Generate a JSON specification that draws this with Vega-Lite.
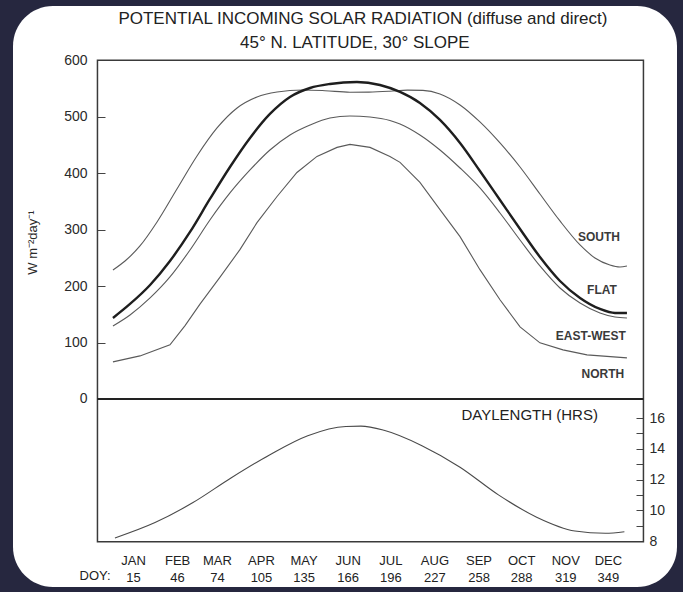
{
  "$schema": "https://vega.github.io/schema/vega-lite/v6.json",
  "width": 683,
  "height": 592,
  "autosize": {"type": "fit", "contains": "padding"},
  "padding": {"left": 13, "top": 6, "right": 6, "bottom": 5},
  "background": "#26273f",
  "config": {
    "view": {"fill": "#ffffff", "cornerRadius": 40, "stroke": null},
    "font": "Liberation Sans",
    "axis": {"grid": false, "domain": false, "labelFont": "Liberation Sans", "labelColor": "#2a2a2a", "tickColor": "#444444", "titleFont": "Liberation Sans", "titleFontWeight": "normal", "titleColor": "#2a2a2a"}
  },
  "datasets": {
    "radiation": [
      {"series": "SOUTH", "doy": 0.9, "rad": 228.5},
      {"series": "SOUTH", "doy": 9.4, "rad": 244.4},
      {"series": "SOUTH", "doy": 19.9, "rad": 271},
      {"series": "SOUTH", "doy": 31.9, "rad": 313.5},
      {"series": "SOUTH", "doy": 45.9, "rad": 371.9},
      {"series": "SOUTH", "doy": 60, "rad": 430.4},
      {"series": "SOUTH", "doy": 74.1, "rad": 480},
      {"series": "SOUTH", "doy": 88.2, "rad": 515.4},
      {"series": "SOUTH", "doy": 102.2, "rad": 534.9},
      {"series": "SOUTH", "doy": 116.3, "rad": 543.7},
      {"series": "SOUTH", "doy": 134.5, "rad": 547.3},
      {"series": "SOUTH", "doy": 150, "rad": 546},
      {"series": "SOUTH", "doy": 167.6, "rad": 543.3},
      {"series": "SOUTH", "doy": 181, "rad": 543.5},
      {"series": "SOUTH", "doy": 195.7, "rad": 545},
      {"series": "SOUTH", "doy": 208, "rad": 547},
      {"series": "SOUTH", "doy": 218.9, "rad": 546.5},
      {"series": "SOUTH", "doy": 230.9, "rad": 540.2},
      {"series": "SOUTH", "doy": 245, "rad": 520.7},
      {"series": "SOUTH", "doy": 259, "rad": 490.6},
      {"series": "SOUTH", "doy": 273.1, "rad": 453.4},
      {"series": "SOUTH", "doy": 287.2, "rad": 410.9},
      {"series": "SOUTH", "doy": 301.2, "rad": 363.1},
      {"series": "SOUTH", "doy": 315.3, "rad": 315.3},
      {"series": "SOUTH", "doy": 329.4, "rad": 272.8},
      {"series": "SOUTH", "doy": 339.9, "rad": 249.7},
      {"series": "SOUTH", "doy": 350.4, "rad": 237.3},
      {"series": "SOUTH", "doy": 357.5, "rad": 233.8},
      {"series": "SOUTH", "doy": 362.4, "rad": 235.5},
      {"series": "FLAT", "doy": 0.9, "rad": 143.5},
      {"series": "FLAT", "doy": 12.9, "rad": 168.3},
      {"series": "FLAT", "doy": 27, "rad": 201.9},
      {"series": "FLAT", "doy": 41, "rad": 244.4},
      {"series": "FLAT", "doy": 55.1, "rad": 295.8},
      {"series": "FLAT", "doy": 69.1, "rad": 354.2},
      {"series": "FLAT", "doy": 83.2, "rad": 410.9},
      {"series": "FLAT", "doy": 97.3, "rad": 462.3},
      {"series": "FLAT", "doy": 111.3, "rad": 504.8},
      {"series": "FLAT", "doy": 125.4, "rad": 534.9},
      {"series": "FLAT", "doy": 139.5, "rad": 550.8},
      {"series": "FLAT", "doy": 153.5, "rad": 557.9},
      {"series": "FLAT", "doy": 172.5, "rad": 561.4},
      {"series": "FLAT", "doy": 188.7, "rad": 556.1},
      {"series": "FLAT", "doy": 202.8, "rad": 543.8},
      {"series": "FLAT", "doy": 216.8, "rad": 524.3},
      {"series": "FLAT", "doy": 230.9, "rad": 494.2},
      {"series": "FLAT", "doy": 245, "rad": 453.4},
      {"series": "FLAT", "doy": 259, "rad": 403.8},
      {"series": "FLAT", "doy": 273.1, "rad": 352.5},
      {"series": "FLAT", "doy": 287.2, "rad": 301.1},
      {"series": "FLAT", "doy": 301.2, "rad": 251.5},
      {"series": "FLAT", "doy": 315.3, "rad": 209},
      {"series": "FLAT", "doy": 329.4, "rad": 178.9},
      {"series": "FLAT", "doy": 343.4, "rad": 159.4},
      {"series": "FLAT", "doy": 354, "rad": 152.3},
      {"series": "FLAT", "doy": 362.4, "rad": 152.3},
      {"series": "EAST-WEST", "doy": 0.9, "rad": 129.3},
      {"series": "EAST-WEST", "doy": 12.9, "rad": 148.8},
      {"series": "EAST-WEST", "doy": 27, "rad": 178.9},
      {"series": "EAST-WEST", "doy": 41, "rad": 216.1},
      {"series": "EAST-WEST", "doy": 55.1, "rad": 263.9},
      {"series": "EAST-WEST", "doy": 69.1, "rad": 317},
      {"series": "EAST-WEST", "doy": 83.2, "rad": 364.9},
      {"series": "EAST-WEST", "doy": 97.3, "rad": 405.6},
      {"series": "EAST-WEST", "doy": 111.3, "rad": 441},
      {"series": "EAST-WEST", "doy": 125.4, "rad": 467.6},
      {"series": "EAST-WEST", "doy": 139.5, "rad": 485.3},
      {"series": "EAST-WEST", "doy": 153.5, "rad": 497.7},
      {"series": "EAST-WEST", "doy": 167.6, "rad": 501.2},
      {"series": "EAST-WEST", "doy": 181.7, "rad": 499.5},
      {"series": "EAST-WEST", "doy": 195.7, "rad": 493.3},
      {"series": "EAST-WEST", "doy": 202.8, "rad": 487.1},
      {"series": "EAST-WEST", "doy": 216.8, "rad": 467.6},
      {"series": "EAST-WEST", "doy": 230.9, "rad": 441},
      {"series": "EAST-WEST", "doy": 245, "rad": 409.1},
      {"series": "EAST-WEST", "doy": 259, "rad": 373.7},
      {"series": "EAST-WEST", "doy": 273.1, "rad": 329.4},
      {"series": "EAST-WEST", "doy": 287.2, "rad": 281.6},
      {"series": "EAST-WEST", "doy": 301.2, "rad": 235.6},
      {"series": "EAST-WEST", "doy": 315.3, "rad": 196.6},
      {"series": "EAST-WEST", "doy": 329.4, "rad": 170},
      {"series": "EAST-WEST", "doy": 343.4, "rad": 152.3},
      {"series": "EAST-WEST", "doy": 354, "rad": 145.2},
      {"series": "EAST-WEST", "doy": 362.4, "rad": 143.5}
    ],
    "north": [
      {"series": "NORTH", "doy": 0.9, "rad": 65.7},
      {"series": "NORTH", "doy": 19.9, "rad": 76.3},
      {"series": "NORTH", "doy": 41, "rad": 95.9},
      {"series": "NORTH", "doy": 51.6, "rad": 130},
      {"series": "NORTH", "doy": 62.1, "rad": 168},
      {"series": "NORTH", "doy": 76.2, "rad": 215.9},
      {"series": "NORTH", "doy": 90.2, "rad": 264.5},
      {"series": "NORTH", "doy": 102.2, "rad": 312.4},
      {"series": "NORTH", "doy": 116.3, "rad": 358.6},
      {"series": "NORTH", "doy": 130.3, "rad": 401.2},
      {"series": "NORTH", "doy": 144.4, "rad": 429.6},
      {"series": "NORTH", "doy": 158.5, "rad": 445.6},
      {"series": "NORTH", "doy": 167.6, "rad": 450.9},
      {"series": "NORTH", "doy": 181.7, "rad": 445.6},
      {"series": "NORTH", "doy": 195.7, "rad": 429.6},
      {"series": "NORTH", "doy": 202.8, "rad": 419},
      {"series": "NORTH", "doy": 216.8, "rad": 383.5},
      {"series": "NORTH", "doy": 230.9, "rad": 335.5},
      {"series": "NORTH", "doy": 245, "rad": 287.6},
      {"series": "NORTH", "doy": 259, "rad": 229},
      {"series": "NORTH", "doy": 273.1, "rad": 175.8},
      {"series": "NORTH", "doy": 287.2, "rad": 127.8},
      {"series": "NORTH", "doy": 301.2, "rad": 99.4},
      {"series": "NORTH", "doy": 317.4, "rad": 87},
      {"series": "NORTH", "doy": 334.3, "rad": 78.1},
      {"series": "NORTH", "doy": 362.4, "rad": 72.8}
    ],
    "daylength": [
      {"doy": 2.3, "hours": 8.2},
      {"doy": 30.5, "hours": 9.2},
      {"doy": 57.2, "hours": 10.5},
      {"doy": 83.9, "hours": 12.1},
      {"doy": 111, "hours": 13.6},
      {"doy": 137.9, "hours": 14.85},
      {"doy": 164.7, "hours": 15.45},
      {"doy": 175.3, "hours": 15.47},
      {"doy": 191.5, "hours": 15.2},
      {"doy": 218.2, "hours": 14.2},
      {"doy": 245, "hours": 12.8},
      {"doy": 272, "hours": 11.0},
      {"doy": 298.9, "hours": 9.55},
      {"doy": 325.8, "hours": 8.65},
      {"doy": 347.2, "hours": 8.5},
      {"doy": 360.6, "hours": 8.6}
    ],
    "curveLabels": [
      {"label": "SOUTH", "doy": 342.7, "rad": 287.6},
      {"label": "FLAT", "doy": 344.8, "rad": 193.5},
      {"label": "EAST-WEST", "doy": 337, "rad": 111.8},
      {"label": "NORTH", "doy": 345.5, "rad": 44.4}
    ]
  },
  "layer": [
    {
      "layer": [
        {
          "data": {"name": "radiation"},
          "mark": {"type": "line", "interpolate": "monotone"},
          "encoding": {
            "x": {
              "field": "doy", "type": "quantitative",
              "scale": {"domain": [-69.4, 397.6], "nice": false, "zero": false},
              "axis": {
                "orient": "bottom", "offset": -45, "ticks": false, "title": null,
                "values": [15, 46, 74, 105, 135, 166, 196, 227, 258, 288, 319, 349],
                "labelExpr": "['JAN','FEB','MAR','APR','MAY','JUN','JUL','AUG','SEP','OCT','NOV','DEC'][indexof([15,46,74,105,135,166,196,227,258,288,319,349], datum.value)]",
                "labelFontSize": 13, "labelPadding": 12, "labelBaseline": "top", "labelColor": "#222222", "labelOverlap": false, "labelFlush": false
              }
            },
            "y": {
              "field": "rad", "type": "quantitative",
              "scale": {"domain": [-333, 696], "nice": false, "zero": false},
              "axis": {
                "orient": "left", "offset": -84, "values": [0, 100, 200, 300, 400, 500, 600],
                "tickSize": -8, "labelPadding": 18, "labelFontSize": 14, "labelColor": "#2a2a2a",
                "title": "W m⁻²day⁻¹", "titleFontSize": 13, "titleX": -58, "titleY": 236
              }
            },
            "detail": {"field": "series"},
            "strokeWidth": {"condition": {"test": "datum.series === 'FLAT'", "value": 2.4}, "value": 1.1},
            "color": {"condition": {"test": "datum.series === 'FLAT'", "value": "#1e1e1e"}, "value": "#5a5a5a"}
          }
        },
        {
          "data": {"name": "north"},
          "mark": {"type": "line", "interpolate": "linear", "color": "#5a5a5a", "strokeWidth": 1.1},
          "encoding": {
            "x": {"field": "doy", "type": "quantitative"},
            "y": {"field": "rad", "type": "quantitative"}
          }
        },
        {
          "data": {"values": [{}]},
          "mark": {"type": "rect", "filled": false, "color": "#3a3a3a", "strokeWidth": 1.5},
          "encoding": {
            "x": {"datum": -10, "type": "quantitative"},
            "x2": {"datum": 374},
            "y": {"datum": 600, "type": "quantitative"},
            "y2": {"datum": -253}
          }
        },
        {
          "data": {"values": [{}]},
          "mark": {"type": "rule", "color": "#222222", "strokeWidth": 2.2},
          "encoding": {
            "x": {"datum": -10, "type": "quantitative"},
            "x2": {"datum": 374},
            "y": {"datum": 0, "type": "quantitative"}
          }
        },
        {
          "data": {"name": "curveLabels"},
          "mark": {"type": "text", "fontSize": 12, "fontWeight": "bold", "color": "#3a3a3a", "align": "center", "baseline": "middle"},
          "encoding": {
            "x": {"field": "doy", "type": "quantitative"},
            "y": {"field": "rad", "type": "quantitative"},
            "text": {"field": "label"}
          }
        },
        {
          "data": {"values": [{}]},
          "mark": {"type": "text", "fontSize": 17, "color": "#222222", "align": "center", "baseline": "middle", "text": "POTENTIAL INCOMING SOLAR RADIATION (diffuse and direct)"},
          "encoding": {
            "x": {"datum": 176.7, "type": "quantitative"},
            "y": {"datum": 673, "type": "quantitative"}
          }
        },
        {
          "data": {"values": [{}]},
          "mark": {"type": "text", "fontSize": 17, "color": "#222222", "align": "center", "baseline": "middle", "text": "45° N. LATITUDE, 30° SLOPE"},
          "encoding": {
            "x": {"datum": 171, "type": "quantitative"},
            "y": {"datum": 631, "type": "quantitative"}
          }
        },
        {
          "data": {"values": [{}]},
          "mark": {"type": "text", "fontSize": 13, "color": "#222222", "align": "center", "baseline": "top", "text": "DOY:"},
          "encoding": {
            "x": {"datum": -11.7, "type": "quantitative"},
            "y": {"datum": -303, "type": "quantitative"}
          }
        }
      ]
    },
    {
      "layer": [
        {
          "data": {"name": "daylength"},
          "mark": {"type": "line", "interpolate": "monotone", "color": "#4a4a4a", "strokeWidth": 1.1},
          "encoding": {
            "x": {
              "field": "doy", "type": "quantitative",
              "axis": {
                "orient": "bottom", "offset": -45, "ticks": false, "title": null,
                "values": [15, 46, 74, 105, 135, 166, 196, 227, 258, 288, 319, 349],
                "labelFontSize": 13, "labelPadding": 29, "labelBaseline": "top", "labelColor": "#222222", "labelOverlap": false, "labelFlush": false
              }
            },
            "y": {
              "field": "hours", "type": "quantitative",
              "scale": {"domain": [5.008, 42.8], "nice": false, "zero": false},
              "axis": {
                "orient": "right", "offset": -34, "values": [8, 9, 10, 11, 12, 13, 14, 15, 16],
                "labelExpr": "datum.value % 2 == 0 ? datum.label : ''",
                "tickSize": -7, "labelPadding": 13, "labelFontSize": 14, "labelColor": "#2a2a2a", "title": null
              }
            }
          }
        },
        {
          "data": {"values": [{}]},
          "mark": {"type": "text", "fontSize": 15, "color": "#222222", "align": "right", "baseline": "middle", "text": "DAYLENGTH (HRS)"},
          "encoding": {
            "x": {"datum": 342, "type": "quantitative"},
            "y": {"datum": 16.2, "type": "quantitative"}
          }
        }
      ]
    }
  ],
  "resolve": {"scale": {"y": "independent"}, "axis": {"x": "independent"}}
}
